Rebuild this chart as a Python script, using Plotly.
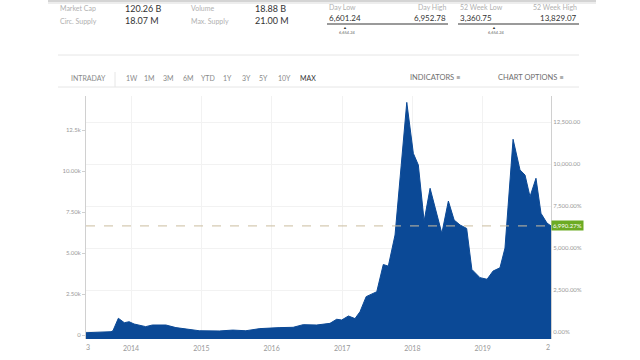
import plotly.graph_objects as go

# ---- data ----
dates = [
    "2013-05-12", "2013-07-18", "2013-09-19", "2013-09-29", "2013-10-27", "2013-11-27",
    "2013-12-22", "2014-01-17", "2014-03-18", "2014-04-22", "2014-07-01", "2014-08-22",
    "2014-10-13", "2014-12-21", "2015-04-04", "2015-06-13", "2015-08-20", "2015-11-01",
    "2016-02-13", "2016-04-22", "2016-06-13", "2016-08-22", "2016-10-30", "2016-12-04",
    "2016-12-30", "2017-02-03", "2017-03-09", "2017-04-04", "2017-05-06", "2017-06-30",
    "2017-08-03", "2017-08-29", "2017-10-03", "2017-12-03", "2018-01-06", "2018-02-01",
    "2018-03-03", "2018-04-03", "2018-06-03", "2018-07-07", "2018-08-06", "2018-09-06",
    "2018-10-10", "2018-11-06", "2018-12-18", "2019-01-24", "2019-02-24", "2019-04-01",
    "2019-04-27", "2019-06-08", "2019-07-14", "2019-08-09", "2019-09-04", "2019-10-05",
    "2019-10-31", "2019-12-01", "2019-12-22",
]
prices = [
    140, 180, 200, 260, 1020, 750,
    810, 670, 510, 610, 610, 450,
    350, 260, 245, 300, 260, 390,
    450, 470, 630, 610, 710, 960,
    915, 1160, 1000, 1420, 2340, 2640,
    4300, 4200, 6100, 14190, 11080, 10370,
    6950, 8950, 6200, 8170, 7010, 6710,
    6500, 4000, 3500, 3400, 3900, 4100,
    5300, 11940, 10070, 9760, 8440, 9560,
    7420, 6830, 6654,
]
last_price = 6654.24
last_pct_label = "6,990.27%"

year_ticks = ["2014-01-01", "2015-01-01", "2016-01-01", "2017-01-01", "2018-01-01", "2019-01-01"]
year_labels = ["2014", "2015", "2016", "2017", "2018", "2019"]

left_tickvals = [0, 2500, 5000, 7500, 10000, 12500]
left_ticktext = ["0", "2.50k", "5.00k", "7.50k", "10.00k", "12.5k"]
right_tickvals = [0, 2500, 5000, 7500, 10000, 12500]
right_ticktext = ["0.00%", "2,500.00%", "5,000.00%", "7,500.00%", "10,000.00", "12,500.00"]

stats_left = [("Market Cap", "120.26 B", "Volume", "18.88 B"),
              ("Circ. Supply", "18.07 M", "Max. Supply", "21.00 M")]
range_blocks = [("Day Low", "Day High", "6,601.24", "6,952.78", "6,654.24"),
                ("52 Week Low", "52 Week High", "3,360.75", "13,829.07", "6,654.24")]
periods = ["1W", "1M", "3M", "6M", "YTD", "1Y", "3Y", "5Y", "10Y", "MAX"]

X_RANGE = ["2013-05-12", "2019-12-22"]
Y_MIN, Y_MAX = -244, 14580
Y2_RANGE = [-417, 14048]

# ---- layout helpers (pixel -> paper) ----
L, R, T, B = 86, 551, 96, 339
def px(x):
    return (x - L) / (R - L)
def py(y):
    return (B - y) / (B - T)

FONT = "Lato, 'Open Sans', sans-serif"
BLUE = "#0b4996"

fig = go.Figure()
fig.add_trace(go.Scatter(x=dates, y=[Y_MIN] * len(dates), mode="lines",
                         line=dict(width=0), hoverinfo="skip", showlegend=False))
fig.add_trace(go.Scatter(x=dates, y=prices, mode="lines", fill="tonexty",
                         fillcolor=BLUE, line=dict(color=BLUE, width=1),
                         showlegend=False))
fig.add_trace(go.Scatter(x=dates, y=prices, yaxis="y2", mode="lines",
                         line=dict(width=0), opacity=0, hoverinfo="skip",
                         showlegend=False))

ann = []
shapes = []

# header stats
label_col = "#b0b0b0"
val_col = "#333333"
for row, yy in zip(stats_left, [8, 21]):
    ann.append(dict(x=px(58), y=py(yy), text=row[0], xanchor="left", font=dict(size=7, color=label_col)))
    ann.append(dict(x=px(123), y=py(yy), text=row[1], xanchor="left", font=dict(size=9, color=val_col)))
    ann.append(dict(x=px(189), y=py(yy), text=row[2], xanchor="left", font=dict(size=7, color=label_col)))
    ann.append(dict(x=px(253), y=py(yy), text=row[3], xanchor="left", font=dict(size=9, color=val_col)))

for (lo_lab, hi_lab, lo_v, hi_v, cur), x0, x1, mx in zip(range_blocks, [327, 458], [448, 579], [345, 494]):
    ann.append(dict(x=px(x0), y=py(7), text=lo_lab, xanchor="left", font=dict(size=7, color=label_col)))
    ann.append(dict(x=px(x1), y=py(7), text=hi_lab, xanchor="right", font=dict(size=7, color=label_col)))
    ann.append(dict(x=px(x0), y=py(18), text=lo_v, xanchor="left", font=dict(size=8, color=val_col)))
    ann.append(dict(x=px(x1), y=py(18), text=hi_v, xanchor="right", font=dict(size=8, color=val_col)))
    ann.append(dict(x=px(mx + 2), y=py(33), text=cur, xanchor="center", font=dict(size=4, color="#666666")))
    ann.append(dict(x=px(mx), y=py(27.5), text="▲", xanchor="center", font=dict(size=4, color="#333333")))
    shapes.append(dict(type="line", xref="paper", yref="paper", x0=px(x0), x1=px(x1),
                       y0=py(24), y1=py(24), line=dict(color="#9a9a9a", width=2)))

# top shadow and separators
shapes.append(dict(type="rect", xref="paper", yref="paper", x0=px(48), x1=px(596),
                   y0=py(0), y1=py(2), fillcolor="#d4d4d4", line=dict(width=0), layer="below"))
shapes.append(dict(type="rect", xref="paper", yref="paper", x0=px(48), x1=px(596),
                   y0=py(2), y1=py(4), fillcolor="#ededed", line=dict(width=0), layer="below"))
shapes.append(dict(type="line", xref="paper", yref="paper", x0=px(58), x1=px(579),
                   y0=py(55), y1=py(55), line=dict(color="#e6e6e6", width=1)))
shapes.append(dict(type="line", xref="paper", yref="paper", x0=px(58), x1=px(579),
                   y0=py(87), y1=py(87), line=dict(color="#e6e6e6", width=1)))
shapes.append(dict(type="line", xref="paper", yref="paper", x0=px(115), x1=px(115),
                   y0=py(72), y1=py(87), line=dict(color="#e6e6e6", width=1)))

# toolbar
tb_col = "#8a8a8a"
ann.append(dict(x=px(88), y=py(78), text="INTRADAY", xanchor="center", font=dict(size=7, color=tb_col)))
for lab, cx in zip(periods, [132, 149, 168, 188, 208, 227, 246, 263, 284, 308]):
    col = "#333333" if lab == "MAX" else tb_col
    ann.append(dict(x=px(cx), y=py(78), text=lab, xanchor="center", font=dict(size=7, color=col)))
ann.append(dict(x=px(408), y=py(77.5), text="INDICATORS ≡", xanchor="left", font=dict(size=7.5, color="#6f6f6f")))
ann.append(dict(x=px(496), y=py(77.5), text="CHART OPTIONS ≡", xanchor="left", font=dict(size=7.5, color="#6f6f6f")))

# clipped edge x labels
ann.append(dict(x=px(88), y=py(347), text="3", xanchor="center", font=dict(size=7, color="#999999")))
ann.append(dict(x=px(548), y=py(347), text="2", xanchor="center", font=dict(size=7, color="#999999")))

# last price line and badge
shapes.append(dict(type="line", xref="paper", yref="y", x0=0, x1=1, y0=last_price, y1=last_price,
                   line=dict(color="#cbbd9f", width=1, dash="dash")))
ann.append(dict(xref="paper", yref="y", x=1.0, y=last_price, text=last_pct_label, xanchor="left",
                font=dict(size=6, color="white"), bgcolor="#6cab24", borderpad=1))

for a in ann:
    a.setdefault("xref", "paper")
    a.setdefault("yref", "paper")
    a["showarrow"] = False
    a["yanchor"] = "middle"
    a["font"]["family"] = FONT

fig.update_layout(
    width=640, height=360,
    margin=dict(l=L, r=640 - R, t=T, b=360 - B),
    paper_bgcolor="white", plot_bgcolor="white",
    font=dict(family=FONT, size=7, color="#999999"),
    xaxis=dict(type="date", range=X_RANGE, tickvals=year_ticks, ticktext=year_labels,
               showgrid=True, gridcolor="#f2f2f2", gridwidth=1, zeroline=False,
               showline=False, ticks="outside", ticklen=3, tickcolor="rgba(0,0,0,0)",
               automargin=False, tickfont=dict(size=7, color="#999999")),
    yaxis=dict(range=[Y_MIN, Y_MAX], tickvals=left_tickvals, ticktext=left_ticktext,
               showgrid=False, zeroline=False, showline=True, linecolor="#d0d0d0", linewidth=1,
               ticks="outside", ticklen=3, tickcolor="#d0d0d0", automargin=False,
               tickfont=dict(size=6, color="#999999")),
    yaxis2=dict(range=Y2_RANGE, overlaying="y", side="right", tickvals=right_tickvals,
                ticktext=right_ticktext, showgrid=True, gridcolor="#f2f2f2", zeroline=False,
                showline=True, linecolor="#d0d0d0", linewidth=1, ticks="", automargin=False,
                tickfont=dict(size=6, color="#999999")),
    annotations=ann, shapes=shapes, showlegend=False,
)

fig.write_html("out.html", config={"displayModeBar": False},
               post_script="document.body.style.margin='0';document.body.style.padding='0';")
